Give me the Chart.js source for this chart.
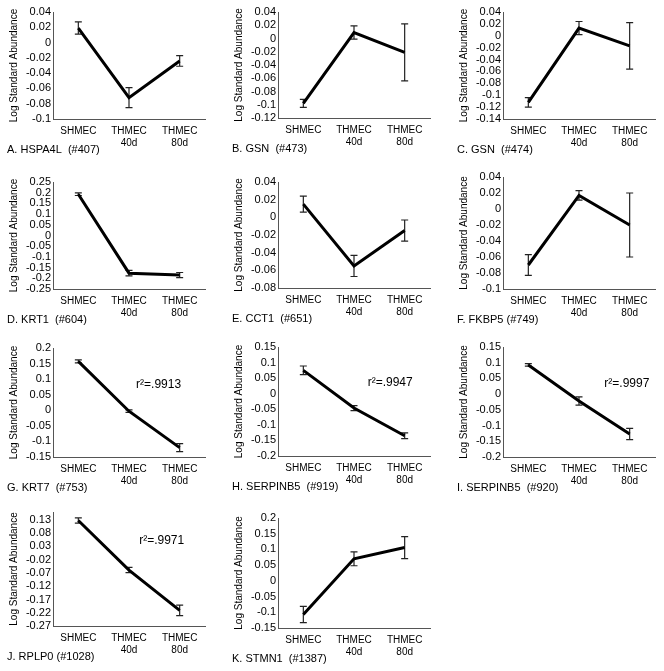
<!DOCTYPE html>
<html>
<head>
<meta charset="utf-8">
<script src="https://cdn.jsdelivr.net/npm/chart.js@4.4.1/dist/chart.umd.min.js"></script>
<style>
    body { margin: 0; background: #fff; width: 664px; height: 671px; position: relative; overflow: hidden; }
    canvas { position: absolute; }
</style>
</head>
<body>
<script>
// x categories shared by every panel
const groups = ['SHMEC', ['THMEC', '40d'], ['THMEC', '80d']];

// mean log standard abundance and error for each spot
const hspa4l407 = [0.019, -0.072, -0.024];
const hspa4l407Err = [0.008, 0.013, 0.007];
const gsn473 = [-0.098, 0.009, -0.021];
const gsn473Err = [0.006, 0.010, 0.043];
const gsn474 = [-0.112, 0.013, -0.017];
const gsn474Err = [0.008, 0.011, 0.039];
const krt1 = [0.193, -0.176, -0.185];
const krt1Err = [0.006, 0.013, 0.012];
const cct1 = [0.015, -0.055, -0.015];
const cct1Err = [0.009, 0.012, 0.012];
const fkbp5 = [-0.070, 0.017, -0.020];
const fkbp5Err = [0.013, 0.006, 0.040];
const krt7 = [0.157, -0.003, -0.120];
const krt7Err = [0.005, 0.004, 0.013];
const serpinb5a = [0.075, -0.046, -0.135];
const serpinb5aErr = [0.014, 0.008, 0.009];
const serpinb5b = [0.093, -0.022, -0.127];
const serpinb5bErr = [0.004, 0.013, 0.018];
const rplp0 = [0.128, -0.059, -0.211];
const rplp0Err = [0.010, 0.010, 0.020];
const stmn1 = [-0.107, 0.070, 0.106];
const stmn1Err = [0.026, 0.022, 0.035];

// y axis ranges: [min, max, step]
const yRanges = [
    [-0.1, 0.04, 0.02], [-0.12, 0.04, 0.02], [-0.14, 0.04, 0.02],
    [-0.25, 0.25, 0.05], [-0.08, 0.04, 0.02], [-0.1, 0.04, 0.02],
    [-0.15, 0.2, 0.05], [-0.2, 0.15, 0.05], [-0.2, 0.15, 0.05],
    [-0.27, 0.16, 0.05], [-0.15, 0.2, 0.05]
];
// RPLP0 axis is labelled off the round numbers
const rplp0Ticks = [-0.27, -0.22, -0.17, -0.12, -0.07, -0.02, 0.03, 0.08, 0.13];

const titles = ['A. HSPA4L  (#407)', 'B. GSN  (#473)', 'C. GSN  (#474)',
    'D. KRT1  (#604)', 'E. CCT1  (#651)', 'F. FKBP5 (#749)',
    'G. KRT7  (#753)', 'H. SERPINB5  (#919)', 'I. SERPINB5  (#920)',
    'J. RPLP0 (#1028)', 'K. STMN1  (#1387)'];

// r squared notes: text, category position, value position
const r2Text = [null, null, null, null, null, null, 'r\u00b2=.9913', 'r\u00b2=.9947', 'r\u00b2=.9997', 'r\u00b2=.9971', null];
const r2At = [null, null, null, null, null, null, [1.14, 0.081], [1.27, 0.034], [1.5, 0.034], [1.2, 0.051], null];

const series = [hspa4l407, gsn473, gsn474, krt1, cct1, fkbp5, krt7, serpinb5a, serpinb5b, rplp0, stmn1];
const errors = [hspa4l407Err, gsn473Err, gsn474Err, krt1Err, cct1Err, fkbp5Err, krt7Err, serpinb5aErr, serpinb5bErr, rplp0Err, stmn1Err];

// page layout
const colLeft = [3, 228, 453];
const plotTop = [12, 12, 12, 182, 182, 177, 348, 347, 347, 512, 518];
const plotBottom = [119, 118, 119, 289, 288, 289, 457, 456, 457, 626, 628];

const errorBars = {
    id: 'errorBars',
    beforeDatasetsDraw(chart, args, opts) {
        const ctx = chart.ctx, x = chart.scales.x, y = chart.scales.y;
        const vals = chart.data.datasets[0].data;
        ctx.save();
        ctx.strokeStyle = '#222';
        ctx.lineWidth = 1.2;
        vals.forEach((v, i) => {
            const px = x.getPixelForValue(i);
            const hi = y.getPixelForValue(v + opts.err[i]);
            const lo = y.getPixelForValue(v - opts.err[i]);
            ctx.beginPath();
            ctx.moveTo(px, hi); ctx.lineTo(px, lo);
            ctx.moveTo(px - 3.5, hi); ctx.lineTo(px + 3.5, hi);
            ctx.moveTo(px - 3.5, lo); ctx.lineTo(px + 3.5, lo);
            ctx.stroke();
        });
        ctx.restore();
    }
};

const r2Note = {
    id: 'r2Note',
    afterDraw(chart, args, opts) {
        if (!opts.text) return;
        const ctx = chart.ctx;
        ctx.save();
        ctx.font = '12px "Liberation Sans", Arial, sans-serif';
        ctx.fillStyle = '#000';
        ctx.textBaseline = 'middle';
        ctx.fillText(opts.text, chart.scales.x.getPixelForValue(opts.at[0]), chart.scales.y.getPixelForValue(opts.at[1]));
        ctx.restore();
    }
};

Chart.defaults.font.family = '"Liberation Sans", Arial, sans-serif';
Chart.defaults.color = '#000';

series.forEach((vals, k) => {
    const c = document.createElement('canvas');
    const top = plotTop[k] - 12;
    const w = 206;
    const h = plotBottom[k] - top + 31 + 6.6 + 9;
    c.width = w;
    c.height = Math.ceil(h);
    c.style.left = colLeft[k % 3] + 'px';
    c.style.top = top + 'px';
    document.body.appendChild(c);

    const range = yRanges[k];
    new Chart(c, {
        type: 'line',
        data: {
            labels: groups,
            datasets: [{
                data: vals,
                borderColor: '#000',
                borderWidth: 3,
                pointRadius: 0,
                tension: 0,
                fill: false
            }]
        },
        options: {
            responsive: false,
            animation: false,
            devicePixelRatio: 1,
            layout: { padding: { top: 12, left: 4, right: 4, bottom: 9 + (h % 1 ? Math.ceil(h) - h : 0) } },
            plugins: {
                legend: { display: false },
                tooltip: { enabled: false },
                title: {
                    display: true,
                    text: titles[k],
                    position: 'bottom',
                    align: 'start',
                    font: { size: 11, weight: 'normal' },
                    padding: { top: -6.6, bottom: 0 }
                },
                errorBars: { err: errors[k] },
                r2Note: { text: r2Text[k], at: r2At[k] }
            },
            scales: {
                x: {
                    offset: true,
                    grid: { display: false, drawTicks: false },
                    border: { display: true, color: '#555', width: 1 },
                    ticks: { font: { size: 10 }, padding: 6, maxRotation: 0, autoSkip: false },
                    afterFit: s => { s.height = 31; }
                },
                y: {
                    min: range[0],
                    max: range[1],
                    ticks: {
                        stepSize: range[2],
                        autoSkip: false,
                        font: { size: 11 },
                        padding: 2,
                        callback: v => String(+(+v).toFixed(2))
                    },
                    afterBuildTicks: k === 9 ? (s => { s.ticks = rplp0Ticks.map(v => ({ value: v })); }) : undefined,
                    grid: { display: false, drawTicks: false },
                    border: { display: true, color: '#555', width: 1 },
                    title: {
                        display: true,
                        text: 'Log Standard Abundance',
                        font: { size: 10 },
                        padding: { top: 1, bottom: 0 }
                    },
                    afterFit: s => { s.width = 46; }
                }
            }
        },
        plugins: [errorBars, r2Note]
    });
});
</script>
</body>
</html>
